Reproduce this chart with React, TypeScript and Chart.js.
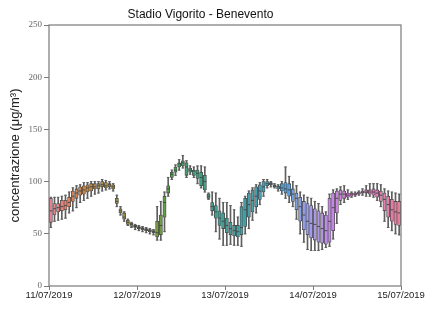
import React, { useEffect, useRef } from "react";
import { Chart, registerables } from "chart.js";

Chart.register(...registerables);

const chartTitle = "Stadio Vigorito - Benevento";
const yAxisTitle = "concentrazione (μg/m³)";
const dateLabels = ["11/07/2019", "12/07/2019", "13/07/2019", "14/07/2019", "15/07/2019"];
const yTicks = [0, 50, 100, 150, 200, 250];

// hourly boxes, 11/07/2019 00:00 -> 14/07/2019 23:00
const whiskerLow = [
  56, 62, 63, 64, 65, 70, 72, 75, 80, 82, 84, 86, 88, 89, 91, 92, 93, 91, 76, 68, 62, 58, 56, 54,
  53, 52, 51, 50, 49, 44, 44, 52, 86, 102, 106, 111, 113, 104, 107, 104, 98, 94, 90, 83, 68, 52, 45, 39,
  39, 40, 39, 39, 38, 50, 55, 63, 70, 78, 86, 94, 95, 94, 91, 88, 84, 80, 76, 64, 50, 42, 35, 34,
  34, 34, 35, 37, 38, 45, 60, 78, 80, 83, 85, 86, 87, 87, 86, 86, 85, 82, 76, 62, 56, 53, 50, 49,
];
const quartile1 = [
  61, 68, 71, 72, 73, 76, 81, 84, 87, 88, 90, 91, 93, 93, 95, 94, 95, 93, 79, 70, 64, 59, 57, 56,
  55, 54, 53, 52, 51, 47, 49, 66, 89, 104, 109, 114, 115, 106, 109, 106, 103, 96, 92, 84, 72, 65, 58, 55,
  51, 49, 48, 47, 49, 57, 66, 71, 76, 83, 90, 96, 97, 95, 93, 91, 89, 86, 81, 73, 62, 54, 49, 46,
  44, 42, 41, 40, 42, 53, 70, 82, 84, 85, 86, 87, 88, 89, 89, 88, 87, 85, 81, 72, 66, 62, 59, 58,
];
const medians = [
  72, 74, 75, 76, 77, 80, 86, 89, 91, 92, 94, 95, 95, 96, 97, 96, 97, 95, 81, 72, 66, 61, 59, 57,
  56, 55, 54, 53, 52, 51, 58, 80, 93, 107, 111, 117, 118, 114, 111, 110, 108, 104, 100, 86, 76, 71, 65, 62,
  58, 55, 53, 52, 56, 73, 78, 82, 86, 91, 95, 98, 98, 96, 95, 94, 93, 92, 88, 84, 76, 68, 62, 60,
  59, 57, 55, 53, 62, 75, 84, 88, 88, 87, 88, 88, 89, 90, 90, 90, 90, 89, 87, 83, 78, 73, 71, 70,
];
const quartile3 = [
  84, 79, 79, 82, 82, 85, 91, 93, 95, 96, 97, 98, 98, 98, 100, 99, 98, 97, 84, 74, 70, 63, 60, 58,
  57, 56, 55, 54, 53, 62, 68, 86, 96, 109, 114, 118, 120, 118, 113, 111, 111, 109, 106, 88, 80, 77, 72, 70,
  65, 61, 58, 58, 76, 84, 89, 92, 95, 97, 100, 100, 99, 97, 96, 98, 99, 98, 93, 89, 85, 81, 79, 77,
  74, 72, 70, 68, 84, 89, 91, 92, 91, 89, 89, 89, 90, 91, 92, 92, 93, 92, 91, 89, 86, 83, 81, 81,
];
const whiskerHigh = [
  85, 85, 85, 86, 87, 90, 94, 96, 97, 99, 99, 100, 100, 100, 102, 101, 100, 98, 87, 76, 71, 64, 61, 59,
  58, 57, 56, 55, 54, 76, 81, 90, 104, 111, 116, 121, 125, 120, 115, 114, 115, 115, 114, 89, 90, 89, 84, 80,
  80, 77, 73, 66, 80, 86, 91, 94, 97, 99, 102, 102, 100, 98, 97, 100, 114, 105, 100, 96, 90, 87, 85, 84,
  81, 79, 76, 71, 88, 92, 93, 95, 96, 92, 90, 90, 91, 93, 96, 98, 98, 98, 97, 93, 91, 90, 89, 88,
];

const lineGray = "#4a4a4a";
const whiskerGray = "#5f5f5f";

// --- HSLuv (seaborn husl palette) ---
const M = [
  [3.240969941904521, -1.537383177570093, -0.498610760293],
  [-0.96924363628087, 1.87596750150772, 0.041555057407175],
  [0.055630079696993, -0.20397695888897, 1.056971514242878],
];
const KAPPA = 903.2962962;
const EPS = 0.0088564516;
function getBounds(L: number) {
  const res: [number, number][] = [];
  const sub1 = Math.pow(L + 16, 3) / 1560896;
  const sub2 = sub1 > EPS ? sub1 : L / KAPPA;
  for (let c = 0; c < 3; c++) {
    const [m1, m2, m3] = M[c];
    for (let t = 0; t < 2; t++) {
      const top1 = (284517 * m1 - 94839 * m3) * sub2;
      const top2 = (838422 * m3 + 769860 * m2 + 731718 * m1) * L * sub2 - 769860 * t * L;
      const bottom = (632260 * m3 - 126452 * m2) * sub2 + 126452 * t;
      res.push([top1 / bottom, top2 / bottom]);
    }
  }
  return res;
}
function maxChroma(L: number, H: number) {
  const hr = (H / 360) * Math.PI * 2;
  let min = Infinity;
  for (const [slope, inter] of getBounds(L)) {
    const len = inter / (Math.sin(hr) - slope * Math.cos(hr));
    if (len >= 0) min = Math.min(min, len);
  }
  return min;
}
function fromLinear(c: number) {
  return c <= 0.0031308 ? 12.92 * c : 1.055 * Math.pow(c, 1 / 2.4) - 0.055;
}
function hsluvToRgb(H: number, S: number, L: number): [number, number, number] {
  const C = (maxChroma(L, H) / 100) * S;
  const hr = (H / 180) * Math.PI;
  const u = Math.cos(hr) * C;
  const v = Math.sin(hr) * C;
  const varU = u / (13 * L) + 0.19783000664283;
  const varV = v / (13 * L) + 0.46831999493879;
  const Y = L <= 8 ? L / KAPPA : Math.pow((L + 16) / 116, 3);
  const X = 0 - (9 * Y * varU) / ((varU - 4) * varV - varU * varV);
  const Z = (9 * Y - 15 * varV * Y - varV * X) / (3 * varV);
  const rgb = M.map((r) => fromLinear(r[0] * X + r[1] * Y + r[2] * Z));
  return [rgb[0], rgb[1], rgb[2]].map((x) => Math.min(1, Math.max(0, x))) as [number, number, number];
}
function rgbToHls(r: number, g: number, b: number) {
  const mx = Math.max(r, g, b), mn = Math.min(r, g, b);
  const l = (mx + mn) / 2;
  if (mx === mn) return [0, l, 0];
  const d = mx - mn;
  const s = l <= 0.5 ? d / (mx + mn) : d / (2 - mx - mn);
  let h;
  if (mx === r) h = ((g - b) / d) % 6;
  else if (mx === g) h = (b - r) / d + 2;
  else h = (r - g) / d + 4;
  h /= 6;
  if (h < 0) h += 1;
  return [h, l, s];
}
function hlsToRgb(h: number, l: number, s: number) {
  const q = l < 0.5 ? l * (1 + s) : l + s - l * s;
  const p = 2 * l - q;
  const f = (t: number) => {
    if (t < 0) t += 1;
    if (t > 1) t -= 1;
    if (t < 1 / 6) return p + (q - p) * 6 * t;
    if (t < 1 / 2) return q;
    if (t < 2 / 3) return p + (q - p) * (2 / 3 - t) * 6;
    return p;
  };
  return [f(h + 1 / 3), f(h), f(h - 1 / 3)];
}
function boxColors(n: number) {
  const out: string[] = [];
  for (let i = 0; i < n; i++) {
    const hue = ((i / n + 0.01) % 1) * 359;
    const [r, g, b] = hsluvToRgb(hue, 0.9 * 99, 0.65 * 99);
    const [h, l, s] = rgbToHls(r, g, b);
    const [r2, g2, b2] = hlsToRgb(h, l, s * 0.75);
    out.push(`rgb(${Math.round(r2 * 255)},${Math.round(g2 * 255)},${Math.round(b2 * 255)})`);
  }
  return out;
}

const framePlugin = {
  id: "frame",
  afterDatasetsDraw(chart: any) {
    const { ctx, chartArea: a } = chart;
    ctx.save();
    ctx.strokeStyle = "#7a7a7a";
    ctx.lineWidth = 1.2;
    ctx.strokeRect(a.left, a.top, a.right - a.left, a.bottom - a.top);
    ctx.restore();
  },
};

export default function App() {
  const ref = useRef<HTMLCanvasElement | null>(null);
  useEffect(() => {
    if (!ref.current) return;
    const n = medians.length;
    const colors = boxColors(n);
    const pos = (i: number) => i + 0.5;
    const chart = new Chart(ref.current, {
      type: "bar",
      data: {
        datasets: [
          {
            type: "bar",
            data: whiskerLow.map((v, i) => ({ x: pos(i), y: [v, whiskerHigh[i]] })) as any,
            backgroundColor: whiskerGray,
            barThickness: 1,
            grouped: false,
            order: 3,
          } as any,
          {
            type: "bar",
            data: quartile1.map((v, i) => ({ x: pos(i), y: [v, quartile3[i]] })) as any,
            backgroundColor: colors,
            borderColor: lineGray,
            borderWidth: 0.8,
            borderSkipped: false,
            barThickness: 3.2,
            grouped: false,
            order: 2,
          } as any,
          {
            type: "scatter",
            data: [
              ...whiskerLow.map((v, i) => ({ x: pos(i), y: v })),
              ...whiskerHigh.map((v, i) => ({ x: pos(i), y: v })),
            ],
            pointStyle: "line",
            radius: 1.3,
            borderColor: whiskerGray,
            borderWidth: 1,
            order: 1,
          } as any,
          {
            type: "scatter",
            data: medians.map((v, i) => ({ x: pos(i), y: v })),
            pointStyle: "line",
            radius: 1.5,
            borderColor: lineGray,
            borderWidth: 1,
            order: 0,
          } as any,
        ],
      },
      options: {
        animation: false,
        responsive: false,
        layout: { padding: { left: 0, right: 24, top: 0, bottom: 0 } },
        plugins: {
          legend: { display: false },
          tooltip: { enabled: false },
          title: {
            display: true,
            text: chartTitle,
            color: "#111",
            font: { family: "Liberation Sans", size: 12, weight: "normal" },
            padding: { top: 7, bottom: 3.6 },
          },
        },
        scales: {
          x: {
            type: "linear",
            min: 0,
            max: 96,
            offset: false,
            afterFit: (s: any) => { s.height = 26; },
            afterBuildTicks: (s: any) => {
              s.ticks = dateLabels.map((_, i) => ({ value: i * 24 }));
            },
            ticks: {
              autoSkip: false,
              maxRotation: 0,
              padding: 0,
              color: "#222",
              font: { family: "Liberation Sans", size: 9.5 },
              callback: (v: any) => dateLabels[Math.round(Number(v) / 24)] ?? "",
            },
            grid: { offset: false, drawOnChartArea: false, tickLength: 4, color: "#7a7a7a", tickWidth: 1 },
            border: { display: false },
          },
          y: {
            type: "linear",
            min: 0,
            max: 250,
            afterFit: (s: any) => { s.width = 49; },
            afterBuildTicks: (s: any) => {
              s.ticks = yTicks.map((v) => ({ value: v }));
            },
            ticks: {
              padding: 2,
              color: "#666",
              font: { family: "Liberation Serif", size: 9 },
            },
            grid: { drawOnChartArea: false, tickLength: 5, color: "#7a7a7a", tickWidth: 1 },
            border: { display: false },
            title: {
              display: true,
              text: yAxisTitle,
              color: "#222",
              font: { family: "Liberation Sans", size: 13 },
              padding: { top: 8, bottom: 0 },
            },
          },
        },
      } as any,
      plugins: [framePlugin],
    });
    return () => chart.destroy();
  }, []);
  return (
    <canvas
      ref={ref}
      width={425}
      height={312}
      style={{ position: "absolute", left: 0, top: 0, width: 425, height: 312, display: "block" }}
    />
  );
}
